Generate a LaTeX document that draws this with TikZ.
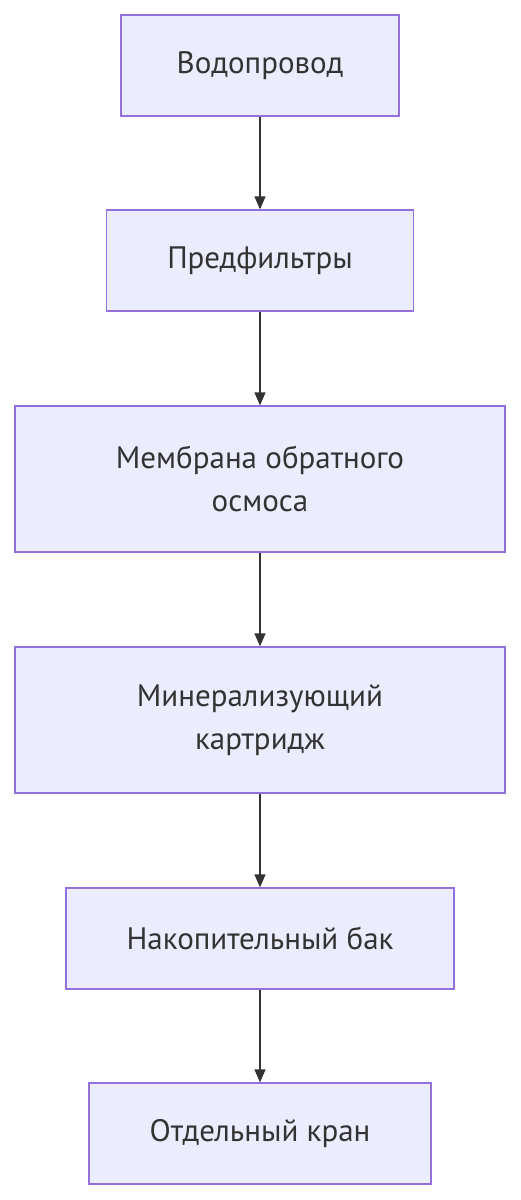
\documentclass[tikz,border=0pt]{standalone}
\usepackage{fontspec}
\setmainfont{PT Sans}
\usetikzlibrary{arrows.meta}
\definecolor{boxfill}{HTML}{ECECFF}
\definecolor{boxline}{HTML}{9370DB}
\definecolor{txt}{HTML}{333333}
\tikzset{
  stepbox/.style={draw=boxline, fill=boxfill, line width=1.3pt, inner sep=0pt, text=txt,
    font=\fontsize{31}{43}\selectfont, align=center},
  flow/.style={draw=txt, line width=1.3pt, -{Triangle[width=11pt,length=13pt]}}
}
\begin{document}
\begin{tikzpicture}[x=1pt,y=-1pt]
\useasboundingbox (0,0) rectangle (520,1200);
\node[stepbox, minimum width=278pt, minimum height=101pt] (a) at (260,65.5) {Водопровод};
\node[stepbox, minimum width=307pt, minimum height=101pt] (b) at (260,260.5) {Предфильтры};
\node[stepbox, minimum width=490pt, minimum height=146pt] (c) at (260,479) {Мембрана обратного\\осмоса};
\node[stepbox, minimum width=490pt, minimum height=146pt] (d) at (260,720) {Минерализующий\\картридж};
\node[stepbox, minimum width=388pt, minimum height=101pt] (e) at (260,938.5) {Накопительный бак};
\node[stepbox, minimum width=342pt, minimum height=101pt] (f) at (260,1133.5) {Отдельный кран};
\draw[flow] (a) -- (b);
\draw[flow] (b) -- (c);
\draw[flow] (c) -- (d);
\draw[flow] (d) -- (e);
\draw[flow] (e) -- (f);
\end{tikzpicture}
\end{document}
